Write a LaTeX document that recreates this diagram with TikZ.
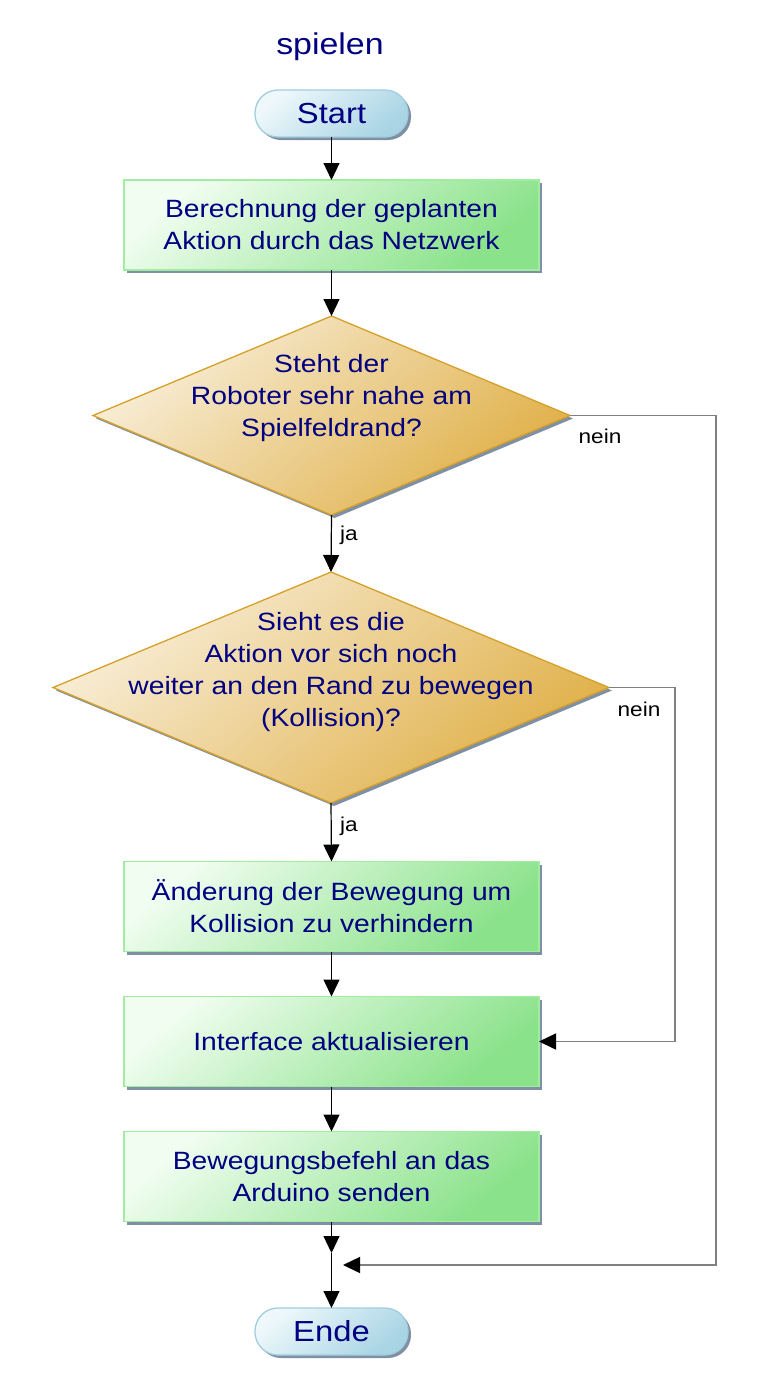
\documentclass[tikz,border=0pt]{standalone}
\usepackage{fontspec}
\setmainfont{Liberation Sans}[FakeStretch=1.13]
\usetikzlibrary{shapes.geometric,arrows.meta,shadows}
\definecolor{txtc}{RGB}{0,0,128}
\definecolor{grA}{RGB}{240,253,240}
\definecolor{grB}{RGB}{138,226,138}
\definecolor{grL}{RGB}{160,236,160}
\definecolor{dmA}{RGB}{248,238,216}
\definecolor{dmB}{RGB}{224,176,72}
\definecolor{dmL}{RGB}{214,160,40}
\definecolor{plA}{RGB}{238,248,251}
\definecolor{plB}{RGB}{168,212,228}
\definecolor{plL}{RGB}{160,206,222}
\definecolor{shc}{RGB}{128,144,164}
\definecolor{linegray}{RGB}{128,128,128}
\tikzset{
  x=1pt, y=-1pt,
  shd/.style={drop shadow={shadow xshift=3pt,shadow yshift=-3pt,opacity=1,fill=shc}},
  procbox/.style={rectangle, draw=grL, line width=1.3pt, shd,
    top color=grA, bottom color=grB, shading angle=40,
    minimum width=415pt, minimum height=90pt, inner sep=0pt, outer sep=0pt,
    align=center, text=txtc, font=\fontsize{25}{32}\selectfont},
  decbox/.style={diamond, draw=dmL, line width=1.3pt, shd,
    top color=dmA, bottom color=dmB, shading angle=40,
    inner sep=0pt, outer sep=0pt},
  dtext/.style={align=center, text=txtc, font=\fontsize{25}{32}\selectfont, inner sep=0pt},
  pill/.style={rectangle, rounded corners=23pt, draw=plL, line width=1.3pt, shd,
    top color=plA, bottom color=plB, shading angle=40,
    minimum width=153pt, minimum height=47pt, inner sep=0pt, outer sep=0pt,
    text=txtc, font=\fontsize{29}{34}\selectfont},
  arr/.style={line width=1.2pt, black, -{Triangle[length=17pt,width=16pt]}},
  garr/.style={line width=1.5pt, linegray, -{Triangle[length=17pt,width=16pt,fill=black,color=black]}},
  glbl/.style={font=\fontsize{20}{24}\selectfont, text=black, inner sep=0pt},
}
\begin{document}
\begin{tikzpicture}
\useasboundingbox (0,0) rectangle (759,1398);
\node[text=txtc, font=\fontsize{30}{34}\selectfont] (title) at (330,47) {spielen};
\node[pill] (start) at (331.5,113.5) {Start};
\node[procbox] (b1) at (331.5,225) {Berechnung der geplanten\\Aktion durch das Netzwerk};
\node[decbox, minimum width=477pt, minimum height=199pt] (d1) at (331.5,415.5) {};
\node[dtext] (d1t) at (331.5,398) {Steht der\\Roboter sehr nahe am\\Spielfeldrand?};
\node[decbox, minimum width=556pt, minimum height=231pt] (d2) at (331,687.5) {};
\node[dtext] (d2t) at (331,672.5) {Sieht es die\\Aktion vor sich noch\\weiter an den Rand zu bewegen\\(Kollision)?};
\node[procbox] (b2) at (331.5,906.5) {Änderung der Bewegung um\\Kollision zu verhindern};
\node[procbox] (b3) at (331.5,1041.5) {Interface aktualisieren};
\node[procbox] (b4) at (331.5,1176.5) {Bewegungsbefehl an das\\Arduino senden};
\node[pill] (ende) at (331.5,1331.5) {Ende};

\coordinate (m0) at (331.5,1253);
\coordinate (m1) at (343,1265);
\coordinate (c1) at (716,1265);
\coordinate (c2) at (675,1041.5);

\draw[arr] (start.south) -- (b1.north);
\draw[arr] (b1.south) -- (d1.north);
\draw[arr] (d1.south) -- (d2.north);
\draw[arr] (d2.south) -- (b2.north);
\draw[arr] (b2.south) -- (b3.north);
\draw[arr] (b3.south) -- (b4.north);
\draw[arr] (b4.south) -- (m0);
\draw[arr] (m0) -- (ende.north);
\draw[garr] (d1.east) -| (c1) -- (m1);
\draw[garr] (d2.east) -| (c2) -- (b3.east);

\node[glbl] (ja1) at (349,535) {ja};
\node[glbl] (ja2) at (349,826) {ja};
\node[glbl] (n1) at (600,436) {nein};
\node[glbl] (n2) at (639,709) {nein};
\end{tikzpicture}
\end{document}
